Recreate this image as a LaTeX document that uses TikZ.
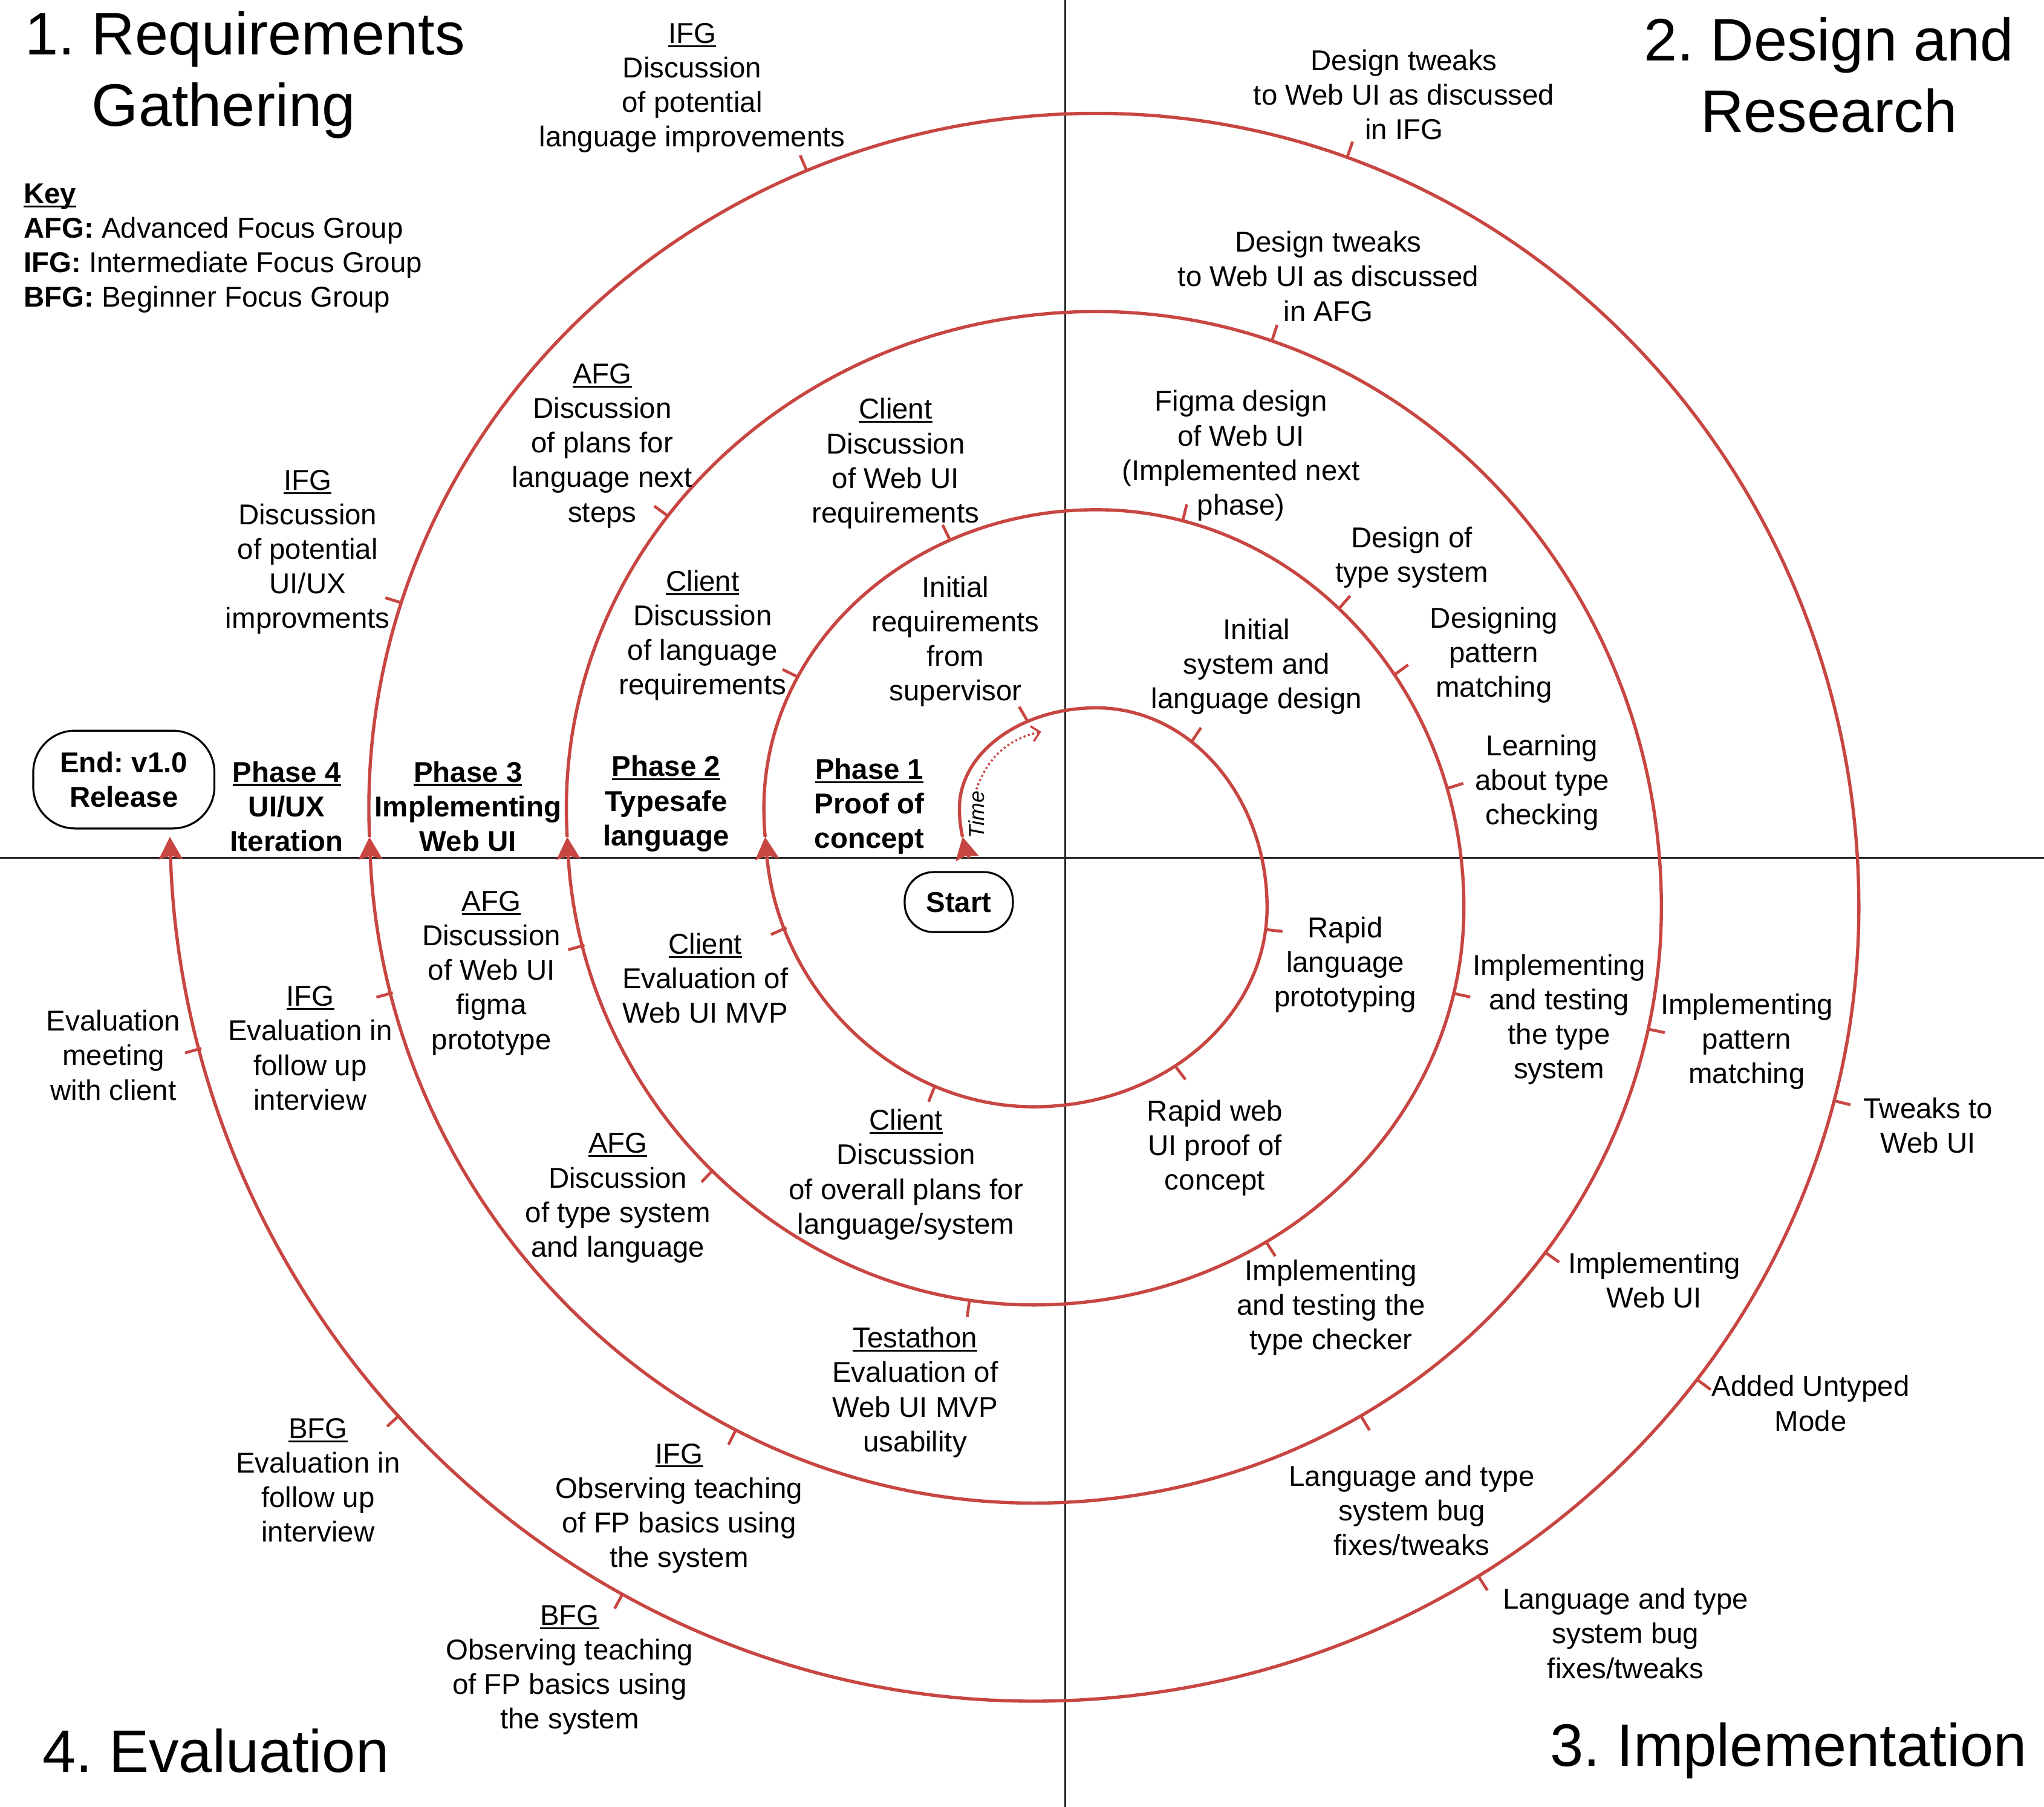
\documentclass[tikz,border=0pt]{standalone}
\usepackage{fontspec}
\setmainfont{Liberation Sans}
\usepackage{tikz}
\usetikzlibrary{arrows.meta}
\definecolor{spiralred}{HTML}{C84642}
% underline kept close to the baseline
\newsavebox{\ulbox}
\newcommand{\ulab}[1]{\sbox{\ulbox}{#1}\rlap{\rule[-3pt]{\wd\ulbox}{1.5pt}}\usebox{\ulbox}}
\frenchspacing

\begin{document}
\begin{tikzpicture}[x=1pt, y=1pt,
  lbl/.style={align=center, inner sep=0pt, font=\fontsize{22}{26.5}\selectfont},
  phase/.style={lbl, font=\fontsize{22}{26.5}\selectfont\bfseries},
  head/.style={align=center, inner sep=0pt, font=\fontsize{46}{55}\selectfont},
  term/.style={draw, line width=1.5pt, align=center, inner sep=0pt, font=\fontsize{22}{26.5}\selectfont\bfseries},
  quadline/.style={line width=1.4pt, black!85},
  spiral/.style={draw=spiralred, line width=2.5pt},
  tickmark/.style={draw=spiralred, line width=2.2pt},
  timearrow/.style={draw=spiralred, line width=1.6pt, dash pattern=on 1.5pt off 2pt, -{Straight Barb[length=6pt, width=12pt]}},
  >={Stealth[length=17pt, width=18pt, inset=2.5pt]}
]
\useasboundingbox (-817,-728) rectangle (751,658);

% Quadrant lines
\coordinate (axN) at (0,658);
\coordinate (axS) at (0,-728);
\coordinate (axW) at (-817,0);
\coordinate (axE) at (751,0);
\draw[quadline] (axN) -- (axS);
\draw[quadline] (axW) -- (axE);

% Spiral, built from quarter ellipses
\coordinate (q1c) at (24,-38);
\coordinate (q2c) at (-24,-38);
\coordinate (q3c) at (-24,38);
\coordinate (q4c) at (24,38);
\coordinate (b00) at (-73.57,0);
\coordinate (b0) at (-78.62,16);
\coordinate (b1) at (-230.04,16);
\coordinate (b2) at (-381.90,16);
\coordinate (b3) at (-533.57,16);

\draw[spiral, ->] (b00) arc[start angle=-150.43, end angle=-163.40, x radius=57pt, y radius=77pt];
% Phase 1
\draw[spiral, ->] (b0) arc[start angle=-163.40, end angle=-180, x radius=57pt, y radius=77pt]
  arc[start angle=180, end angle=90, x radius=105pt, y radius=77pt]
  arc[start angle=90, end angle=0, x radius=131pt, y radius=153pt]
  arc[start angle=0, end angle=-90, x radius=179pt, y radius=153pt]
  arc[start angle=-90, end angle=-174.49, x radius=207pt, y radius=229pt];
% Phase 2
\draw[spiral, ->] (b1) arc[start angle=-174.49, end angle=-180, x radius=207pt, y radius=229pt]
  arc[start angle=180, end angle=90, x radius=255pt, y radius=229pt]
  arc[start angle=90, end angle=0, x radius=282pt, y radius=305pt]
  arc[start angle=0, end angle=-90, x radius=330pt, y radius=305pt]
  arc[start angle=-90, end angle=-176.69, x radius=358.5pt, y radius=381pt];
% Phase 3
\draw[spiral, ->] (b2) arc[start angle=-176.69, end angle=-180, x radius=358.5pt, y radius=381pt]
  arc[start angle=180, end angle=90, x radius=406.5pt, y radius=381pt]
  arc[start angle=90, end angle=0, x radius=433.5pt, y radius=457pt]
  arc[start angle=0, end angle=-90, x radius=481.5pt, y radius=457pt]
  arc[start angle=-90, end angle=-177.63, x radius=510pt, y radius=533pt];
% Phase 4
\draw[spiral, ->] (b3) arc[start angle=-177.63, end angle=-180, x radius=510pt, y radius=533pt]
  arc[start angle=180, end angle=90, x radius=558pt, y radius=533pt]
  arc[start angle=90, end angle=0, x radius=585pt, y radius=609pt]
  arc[start angle=0, end angle=-90, x radius=633pt, y radius=609pt]
  arc[start angle=-90, end angle=-178.16, x radius=663pt, y radius=685pt];

% Ticks for each activity
\foreach \a in {120.1} \draw[tickmark] (q4c) ++(\a:105pt and 77pt) -- ++(\a:13pt);
\foreach \a in {56.1} \draw[tickmark] (q1c) ++(\a:131pt and 153pt) -- ++(\a:13pt);
\foreach \a in {-6.4,-52.7} \draw[tickmark] (q2c) ++(\a:179pt and 153pt) -- ++(\a:13pt);
\foreach \a in {-111.5,-156.4} \draw[tickmark] (q3c) ++(\a:207pt and 229pt) -- ++(\a:13pt);
\foreach \a in {153.9,116.1} \draw[tickmark] (q4c) ++(\a:255pt and 229pt) -- ++(\a:13pt);
\foreach \a in {76.4,48.7,35.8,17.4} \draw[tickmark] (q1c) ++(\a:282pt and 305pt) -- ++(\a:13pt);
\foreach \a in {-12.5,-57.3} \draw[tickmark] (q2c) ++(\a:330pt and 305pt) -- ++(\a:13pt);
\foreach \a in {-97.9,-133.3,-164.0} \draw[tickmark] (q3c) ++(\a:358.5pt and 381pt) -- ++(\a:13pt);
\foreach \a in {143.95} \draw[tickmark] (q4c) ++(\a:406.5pt and 381pt) -- ++(\a:13pt);
\foreach \a in {71.9} \draw[tickmark] (q1c) ++(\a:433.5pt and 457pt) -- ++(\a:13pt);
\foreach \a in {-11.8,-35.4,-58.6} \draw[tickmark] (q2c) ++(\a:481.5pt and 457pt) -- ++(\a:13pt);
\foreach \a in {-116.6,-164.6} \draw[tickmark] (q3c) ++(\a:510pt and 533pt) -- ++(\a:13pt);
\foreach \a in {162.8,113.45} \draw[tickmark] (q4c) ++(\a:558pt and 533pt) -- ++(\a:13pt);
\foreach \a in {70.8} \draw[tickmark] (q1c) ++(\a:585pt and 609pt) -- ++(\a:13pt);
\foreach \a in {-14.1,-36.5,-57.4} \draw[tickmark] (q2c) ++(\a:633pt and 609pt) -- ++(\a:13pt);
\foreach \a in {-118.4,-137.2,-164.4} \draw[tickmark] (q3c) ++(\a:663pt and 685pt) -- ++(\a:13pt);

% Start / end
\node[term, rounded corners=22pt, minimum width=83pt, minimum height=46pt] (start) at (-81.5,-34) {Start};
\node[term, rounded corners=32pt, minimum width=139pt, minimum height=75pt] (end) at (-722,60) {End: v1.0\\Release};

% Time arrow
\node[font=\fontsize{16.5}{20}\selectfont\itshape, rotate=90, inner sep=1pt] (time) at (-68,33) {Time};
\coordinate (timetip) at (-18.3,96.7);
\draw[timearrow] (time.east) to[bend left=29] (timetip);

% Phases
\node[phase] (ph4) at (-597,39.5) {\ulab{Phase 4}\\UI/UX\\Iteration};
\node[phase] (ph3) at (-458,39.5) {\ulab{Phase 3}\\Implementing\\Web UI};
\node[phase] (ph2) at (-306,41.5) {\ulab{Phase 2}\\Typesafe\\language};
\node[phase] (ph1) at (-150,39.5) {\ulab{Phase 1}\\Proof of\\concept};

% Quadrant headings
\node[head] (reqHead) at (-629,600.5) {1. Requirements\\Gathering\hspace*{33pt}};
\node[head] (designHead) at (586,600.5) {2. Design and\\Research};
\node[head] (implHead) at (555,-685) {3. Implementation};
\node[head] (evalHead) at (-651.5,-685) {4. Evaluation};

% Key
\node[lbl, align=left, anchor=west] (key) at (-799,467.5)
  {\textbf{\ulab{Key}}\\\textbf{AFG:} Advanced Focus Group\\\textbf{IFG:} Intermediate Focus Group\\\textbf{BFG:} Beginner Focus Group};

% Activities above the line
\node[lbl] (ifgLang) at (-286,590.5) {\ulab{IFG}\\Discussion\\of potential\\language improvements};
\node[lbl] (tweakIfg) at (260,585.5) {Design tweaks\\to Web UI as discussed\\in IFG};
\node[lbl] (tweakAfg) at (202,446) {Design tweaks\\to Web UI as discussed\\in AFG};
\node[lbl] (afgPlans) at (-355,316) {\ulab{AFG}\\Discussion\\of plans for\\language next\\steps};
\node[lbl] (clientUi) at (-130,302.5) {\ulab{Client}\\Discussion\\of Web UI\\requirements};
\node[lbl] (figma) at (135,308.5) {Figma design\\of Web UI\\(Implemented next\\phase)};
\node[lbl] (ifgUx) at (-581,234.5) {\ulab{IFG}\\Discussion\\of potential\\UI/UX\\improvments};
\node[lbl] (typeSys) at (266,230.5) {Design of\\type system};
\node[lbl] (clientLang) at (-278,170.5) {\ulab{Client}\\Discussion\\of language\\requirements};
\node[lbl] (initReq) at (-84,166) {Initial\\requirements\\from\\supervisor};
\node[lbl] (pattern) at (329,155.5) {Designing\\pattern\\matching};
\node[lbl] (initSys) at (147,146.5) {Initial\\system and\\language design};
\node[lbl] (learn) at (366,57.5) {Learning\\about type\\checking};

% Activities below the line
\node[lbl] (afgFigma) at (-440,-88.5) {\ulab{AFG}\\Discussion\\of Web UI\\figma\\prototype};
\node[lbl] (clientMvp) at (-276,-92.5) {\ulab{Client}\\Evaluation of\\Web UI MVP};
\node[lbl] (rapidLang) at (215,-82) {Rapid\\language\\prototyping};
\node[lbl] (implType) at (379,-124) {Implementing\\and testing\\the type\\system};
\node[lbl] (ifgEval) at (-579,-146) {\ulab{IFG}\\Evaluation in\\follow up\\interview};
\node[lbl] (clientEval) at (-730,-151.5) {Evaluation\\meeting\\with client};
\node[lbl] (implPattern) at (523,-141) {Implementing\\pattern\\matching};
\node[lbl] (tweakUi) at (662,-205.5) {Tweaks to\\Web UI};
\node[lbl] (rapidWeb) at (115,-222.5) {Rapid web\\UI proof of\\concept};
\node[lbl] (clientPlans) at (-122,-243) {\ulab{Client}\\Discussion\\of overall plans for\\language/system};
\node[lbl] (afgType) at (-343,-261) {\ulab{AFG}\\Discussion\\of type system\\and language};
\node[lbl] (implChecker) at (204,-345) {Implementing\\and testing the\\type checker};
\node[lbl] (implWeb) at (452,-324) {Implementing\\Web UI};
\node[lbl] (testathon) at (-115,-410) {\ulab{Testathon}\\Evaluation of\\Web UI MVP\\usability};
\node[lbl] (untyped) at (572,-418.5) {Added Untyped\\Mode};
\node[lbl] (bfgEval) at (-573,-477.5) {\ulab{BFG}\\Evaluation in\\follow up\\interview};
\node[lbl] (ifgTeach) at (-296,-499) {\ulab{IFG}\\Observing teaching\\of FP basics using\\the system};
\node[lbl] (fixesIn) at (266,-500.5) {Language and type\\system bug\\fixes/tweaks};
\node[lbl] (fixesOut) at (430,-595) {Language and type\\system bug\\fixes/tweaks};
\node[lbl] (bfgTeach) at (-380,-623) {\ulab{BFG}\\Observing teaching\\of FP basics using\\the system};

\end{tikzpicture}
\end{document}
